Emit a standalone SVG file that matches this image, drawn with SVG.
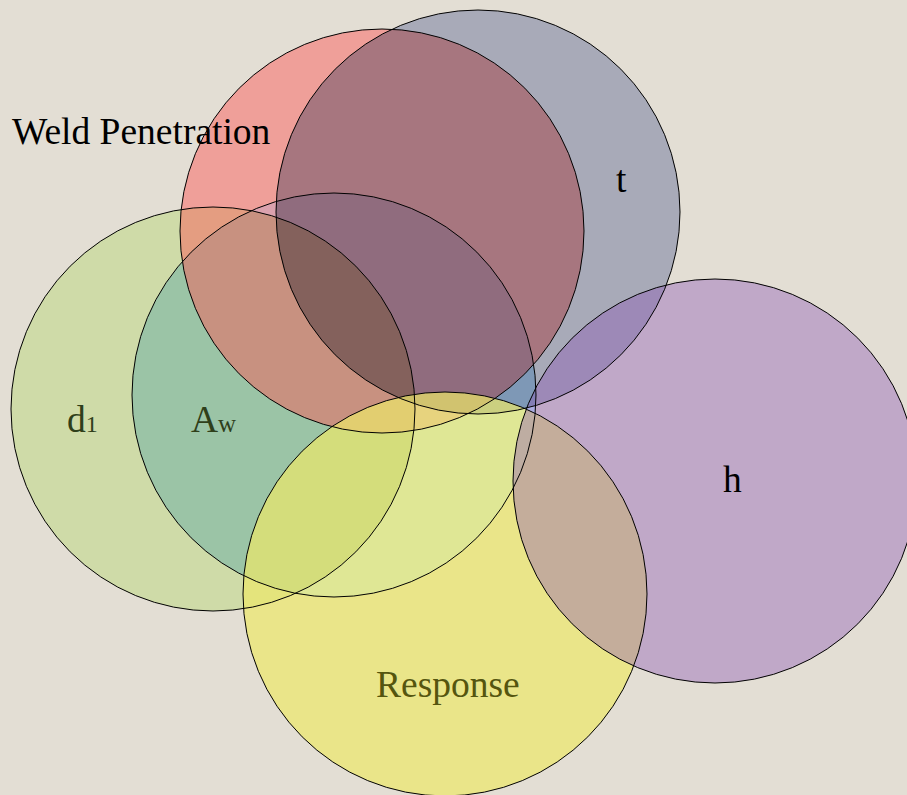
<svg xmlns="http://www.w3.org/2000/svg" width="907" height="795" viewBox="0 0 907 795">
<style>
.o{fill:none;stroke:#000;stroke-width:1}
.m{mix-blend-mode:multiply}
.t{font-family:"Liberation Serif","Times New Roman",serif;font-size:37.5px}
</style>
<defs>
<circle id="c-d1" cx="213" cy="409" r="202"/>
<circle id="c-aw" cx="334" cy="395" r="202"/>
<circle id="c-weld" cx="382" cy="231" r="202"/>
<circle id="c-t" cx="478" cy="212" r="202"/>
<circle id="c-resp" cx="445" cy="594" r="202"/>
<circle id="c-h" cx="715" cy="481" r="202"/>
</defs>
<rect width="907" height="795" fill="#E3DED4"/>
<g id="circles" style="isolation:isolate">
<g id="d1"><use href="#c-d1" fill="#CFDBA8"/></g>
<g id="aw"><use href="#c-aw" class="m" fill="#BFE4FC"/></g>
<g id="weld"><use href="#c-weld" fill="#FD5552" fill-opacity="0.46"/></g>
<g id="t"><use href="#c-t" class="m" fill="#A8AAB8"/></g>
<g id="response"><use href="#c-resp" fill="#ECE86A" fill-opacity="0.7"/></g>
<g id="h"><use href="#c-h" fill="#8C57B6" fill-opacity="0.4"/></g>
</g>
<g id="outlines">
<use href="#c-d1" class="o"/>
<use href="#c-aw" class="o"/>
<use href="#c-weld" class="o"/>
<use href="#c-t" class="o"/>
<use href="#c-resp" class="o"/>
<use href="#c-h" class="o"/>
</g>
<g id="labels">
<text class="t" x="12" y="144" fill="#000">Weld Penetration</text>
<text class="t" x="616" y="192" fill="#000">t</text>
<text class="t" x="67" y="432" fill="#2F3F1A" font-size="35">d<tspan font-size="24">1</tspan></text>
<text class="t" x="191" y="432" fill="#2F3F1A" font-size="35">A<tspan font-size="25">w</tspan></text>
<text class="t" x="376" y="697" fill="#55550F">Response</text>
<text class="t" x="723" y="492" fill="#000">h</text>
</g>
</svg>
